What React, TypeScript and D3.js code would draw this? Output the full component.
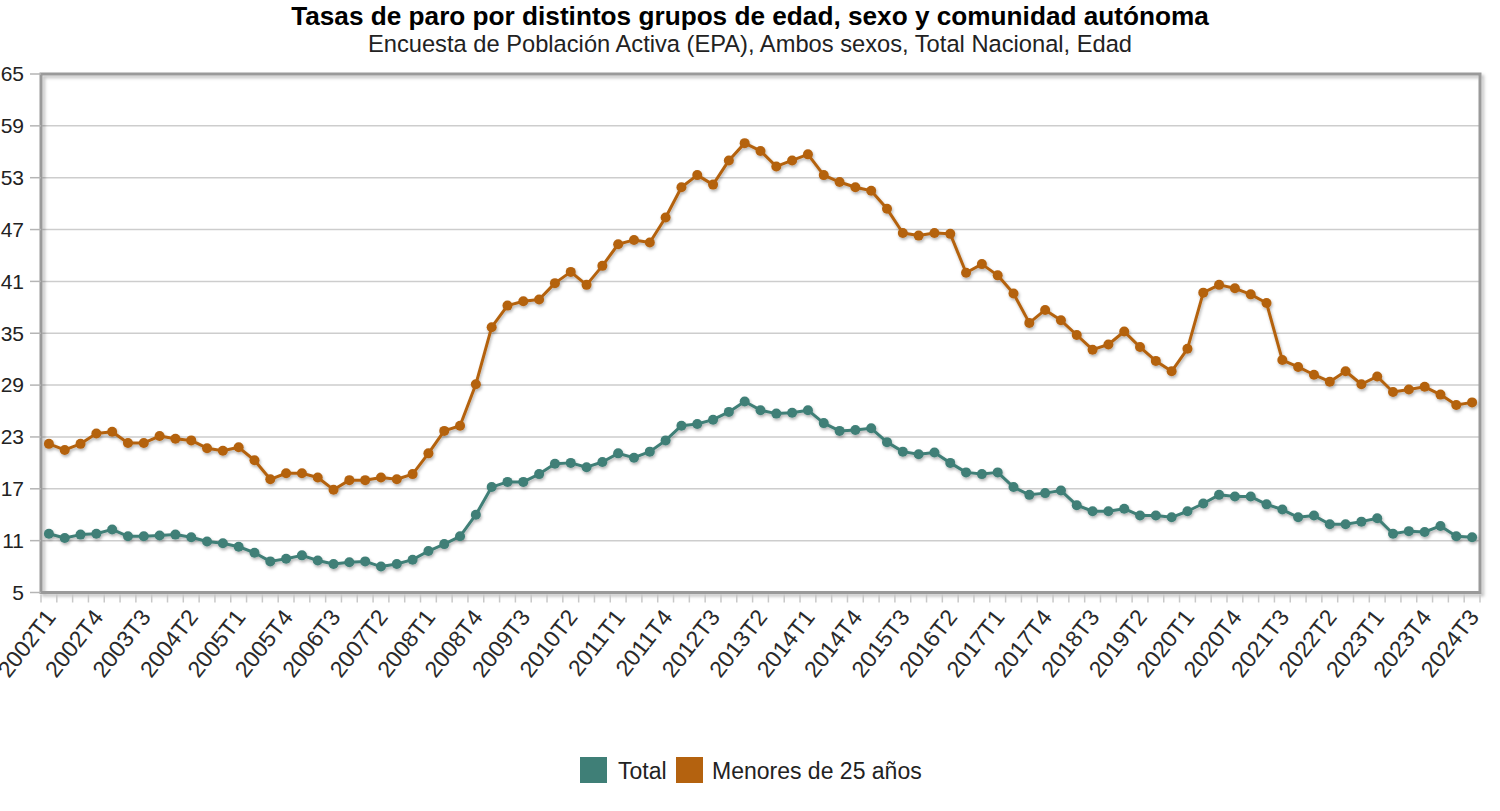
import React from "react";
import * as d3 from "d3";

const title = "Tasas de paro por distintos grupos de edad, sexo y comunidad autónoma";
const subtitle = "Encuesta de Población Activa (EPA), Ambos sexos, Total Nacional, Edad";

const years = d3.range(2002, 2025);
const quarters = ["T1", "T2", "T3", "T4"];
const periods: string[] = years.flatMap((y) => quarters.map((q) => `${y}${q}`)).slice(0, 91);

const yTicks = [5, 11, 17, 23, 29, 35, 41, 47, 53, 59, 65];

const totalValues = [
  11.8, 11.3, 11.7, 11.8, 12.3, 11.5, 11.5, 11.6, 11.7, 11.4,
  10.9, 10.7, 10.3, 9.6, 8.6, 8.9, 9.3, 8.7, 8.3, 8.5,
  8.6, 8.0, 8.3, 8.8, 9.8, 10.6, 11.5, 14.0, 17.2, 17.8,
  17.8, 18.7, 19.9, 20.0, 19.5, 20.1, 21.1, 20.6, 21.3, 22.6,
  24.3, 24.5, 25.0, 25.9, 27.1, 26.1, 25.7, 25.8, 26.1, 24.6,
  23.7, 23.8, 24.0, 22.4, 21.3, 21.0, 21.2, 20.0, 18.9, 18.7,
  18.9, 17.2, 16.3, 16.5, 16.8, 15.1, 14.4, 14.4, 14.7, 13.9,
  13.9, 13.7, 14.4, 15.3, 16.3, 16.1, 16.1, 15.2, 14.6, 13.7,
  13.9, 12.9, 12.9, 13.2, 13.6, 11.8, 12.1, 12.0, 12.7, 11.5,
  11.4,
];

const menoresValues = [
  22.2, 21.5, 22.2, 23.4, 23.6, 22.3, 22.3, 23.1, 22.8, 22.6,
  21.7, 21.4, 21.8, 20.3, 18.1, 18.8, 18.8, 18.3, 16.9, 18.0,
  18.0, 18.3, 18.1, 18.7, 21.1, 23.7, 24.3, 29.1, 35.7, 38.2,
  38.7, 38.9, 40.8, 42.1, 40.6, 42.8, 45.3, 45.8, 45.5, 48.4,
  51.9, 53.3, 52.2, 55.0, 57.0, 56.1, 54.3, 55.0, 55.7, 53.3,
  52.5, 51.9, 51.5, 49.4, 46.6, 46.3, 46.6, 46.5, 42.0, 43.0,
  41.7, 39.6, 36.2, 37.7, 36.5, 34.8, 33.1, 33.7, 35.2, 33.4,
  31.8, 30.6, 33.2, 39.7, 40.6, 40.2, 39.5, 38.5, 31.9, 31.1,
  30.2, 29.4, 30.6, 29.1, 30.0, 28.2, 28.5, 28.8, 27.9, 26.7,
  27.0,
];

const seriesNames = ["Total", "Menores de 25 años"];
const seriesColors = ["#3f7f77", "#b4620f"];

const W = 1500;
const H = 811;
const left = 41;
const right = 1480;
const top = 74;
const bottom = 592.5;

export default function App() {
  const x = d3.scaleBand<string>().domain(periods).range([left, right]);
  const y = d3.scaleLinear().domain([5, 65]).range([bottom, top]);
  const bw = x.bandwidth();
  const cx = (p: string) => (x(p) as number) + bw / 2;

  const series = [totalValues, menoresValues];
  const line = d3
    .line<number>()
    .x((_, i) => cx(periods[i]))
    .y((d) => y(d));

  const font = "'Liberation Sans', Arial, sans-serif";

  return (
    <svg
      width={W}
      height={H}
      style={{ position: "absolute", left: 0, top: 0, background: "#fff" }}
      fontFamily={font}
    >
      <defs>
        <filter id="shadow" x="-5%" y="-5%" width="110%" height="120%">
          <feDropShadow dx="1" dy="2" stdDeviation="1.5" floodColor="#000" floodOpacity="0.3" />
        </filter>
        <filter id="frameShadow" x="-5%" y="-5%" width="110%" height="110%">
          <feDropShadow dx="2.5" dy="2.5" stdDeviation="1.5" floodColor="#000" floodOpacity="0.25" />
        </filter>
      </defs>

      <text x={750} y={25} textAnchor="middle" fontSize={26.2} fontWeight="bold" fill="#000">
        {title}
      </text>
      <text x={750} y={52} textAnchor="middle" fontSize={23.7} fill="#222">
        {subtitle}
      </text>

      {/* gridlines */}
      {yTicks.slice(1, -1).map((t) => (
        <line key={t} x1={left} x2={right} y1={y(t)} y2={y(t)} stroke="#cdcdcd" strokeWidth={1.5} />
      ))}

      {/* frame */}
      <rect
        x={left}
        y={top}
        width={right - left}
        height={bottom - top}
        fill="none"
        stroke="#9a9a9a"
        strokeWidth={3}
        filter="url(#frameShadow)"
      />

      {/* y ticks and labels */}
      {yTicks.map((t) => (
        <g key={t}>
          <line x1={30} x2={left} y1={y(t)} y2={y(t)} stroke="#b5b5b5" strokeWidth={1.5} />
          <text x={24} y={y(t)} dy="0.35em" textAnchor="end" fontSize={21} fill="#222">
            {t}
          </text>
        </g>
      ))}

      {/* x ticks */}
      {d3.range(periods.length + 1).map((i) => {
        const xx = left + i * bw;
        return <line key={i} x1={xx} x2={xx} y1={bottom + 2} y2={bottom + 10} stroke="#c8c8c8" strokeWidth={1.5} />;
      })}

      {/* x labels */}
      {periods.map((p, i) =>
        i % 3 === 0 ? (
          <text
            key={p}
            transform={`translate(${cx(p) + 8},${bottom + 25}) rotate(-52)`}
            textAnchor="end"
            fontSize={23}
            fill="#2a2a2a"
          >
            {p}
          </text>
        ) : null
      )}

      {/* series */}
      {series.map((vals, si) => (
        <g key={si} filter="url(#shadow)">
          <path d={line(vals) || ""} fill="none" stroke={seriesColors[si]} strokeWidth={3} strokeLinejoin="round" />
          {vals.map((v, i) => (
            <circle key={i} cx={cx(periods[i])} cy={y(v)} r={5} fill={seriesColors[si]} />
          ))}
        </g>
      ))}

      {/* legend */}
      <g>
        <rect x={580} y={757} width={27} height={26} fill={seriesColors[0]} />
        <text x={618} y={779} fontSize={23} fill="#222">
          {seriesNames[0]}
        </text>
        <rect x={676} y={757} width={27} height={26} fill={seriesColors[1]} />
        <text x={712} y={779} fontSize={23} fill="#222">
          {seriesNames[1]}
        </text>
      </g>
    </svg>
  );
}
